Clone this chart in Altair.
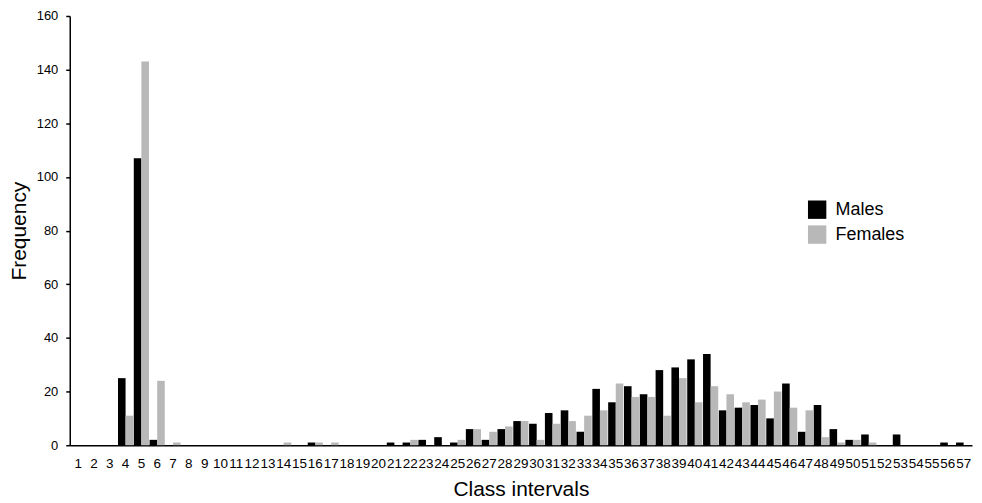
import altair as alt
import pandas as pd

classes = list(range(1, 58))
males = [0, 0, 0, 25, 107, 2, 0, 0, 0, 0,
         0, 0, 0, 0, 0, 1, 0, 0, 0, 0,
         1, 1, 2, 3, 1, 6, 2, 6, 9, 8,
         12, 13, 5, 21, 16, 22, 19, 28, 29, 32,
         34, 13, 14, 15, 10, 23, 5, 15, 6, 2,
         4, 0, 4, 0, 0, 1, 1]
females = [0, 0, 0, 11, 143, 24, 1, 0, 0, 0,
           0, 0, 0, 1, 0, 1, 1, 0, 0, 0,
           0, 2, 0, 0, 2, 6, 5, 7, 9, 2,
           8, 9, 11, 13, 23, 18, 18, 11, 25, 16,
           22, 19, 16, 17, 20, 14, 13, 3, 1, 2,
           1, 0, 0, 0, 0, 0, 0]
series = ["Males", "Females"]
colors = ["#000000", "#b8b8b8"]

rows = []
for c, m, f in zip(classes, males, females):
    rows.append({"cls": c, "sex": "Males", "freq": m})
    rows.append({"cls": c, "sex": "Females", "freq": f})
df = pd.DataFrame(rows)

font = "Liberation Sans"

chart = alt.Chart(df).mark_bar(stroke=None).encode(
    x=alt.X("cls:O", title="Class intervals", sort=classes,
            scale=alt.Scale(paddingInner=0.04, paddingOuter=0.05),
            axis=alt.Axis(labelAngle=0, ticks=False, labelOverlap=False,
                          labelFontSize=13.5, labelColor="#000000", labelFont=font,
                          labelPadding=11, titleFontSize=21, titleFont=font,
                          titleFontWeight="normal", titleColor="#000000",
                          titlePadding=9, domainColor="#000000", domainWidth=1.5)),
    xOffset=alt.XOffset("sex:N", sort=series),
    y=alt.Y("freq:Q", title="Frequency",
            scale=alt.Scale(domain=[0, 160], nice=False),
            axis=alt.Axis(values=list(range(0, 161, 20)), grid=False,
                          tickSize=4, tickColor="#000000", tickWidth=1.5,
                          labelFontSize=13, labelColor="#000000", labelFont=font,
                          labelPadding=8, titleFontSize=21, titleFont=font,
                          titleFontWeight="normal", titleColor="#000000",
                          titlePadding=7, domainColor="#000000", domainWidth=1.5)),
    color=alt.Color("sex:N", sort=series,
                    scale=alt.Scale(domain=series, range=colors),
                    legend=alt.Legend(title=None, orient="none", legendX=741, legendY=185,
                                      symbolType="square", symbolSize=340,
                                      symbolStrokeWidth=0, labelFontSize=18,
                                      labelFont=font, labelColor="#000000",
                                      rowPadding=6, labelOffset=9)),
).properties(
    width=906, height=431,
    autosize=alt.AutoSizeParams(type="none"),
    padding={"left": 62, "top": 7, "right": 2, "bottom": 56},
).configure_view(stroke=None)

chart.save("out.html", embed_options={"renderer": "svg", "actions": False})
